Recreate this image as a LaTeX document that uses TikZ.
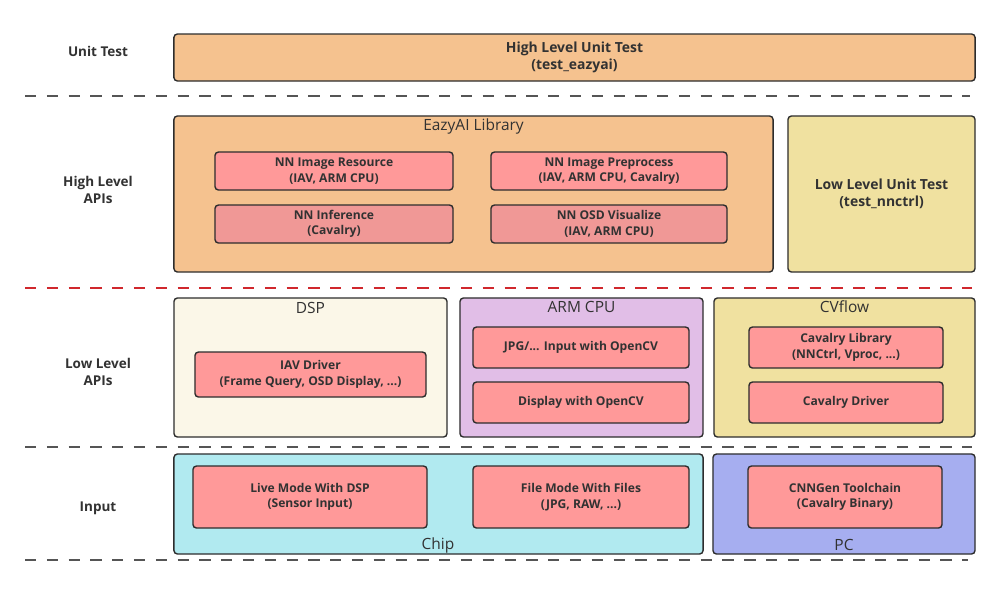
\documentclass[tikz,border=0pt]{standalone}
\usepackage{fontspec}
\setmainfont{Open Sans}
\definecolor{linecol}{RGB}{45,45,45}
\definecolor{textcol}{RGB}{50,50,50}
\definecolor{orangecol}{RGB}{245,194,143}
\definecolor{yellowcol}{RGB}{240,225,160}
\definecolor{pinkcol}{RGB}{255,153,153}
\definecolor{pinkdark}{RGB}{240,152,150}
\definecolor{creamcol}{RGB}{251,247,232}
\definecolor{lilaccol}{RGB}{225,190,231}
\definecolor{cyancol}{RGB}{177,234,240}
\definecolor{bluecol}{RGB}{166,174,240}
\definecolor{redline}{RGB}{208,40,45}
\definecolor{greyline}{RGB}{85,85,85}

\begin{document}
\begin{tikzpicture}[x=0.025cm,y=-0.025cm,
  layer/.style={draw=linecol,line width=1pt,rounded corners=2.5pt,inner sep=0pt},
  part/.style={draw=linecol,line width=1pt,rounded corners=2.5pt,fill=pinkcol,inner sep=0pt,
    align=center,text=textcol,font=\bfseries\fontsize{8.6}{11}\selectfont},
  testpart/.style={part,font=\bfseries\fontsize{9.9}{12.2}\selectfont},
  rowlabel/.style={align=center,text=textcol,font=\bfseries\fontsize{9.6}{12}\selectfont},
  boxtitle/.style={text=textcol,font=\fontsize{11}{13}\selectfont,inner sep=0pt},
  sep/.style={dash pattern=on 8pt off 7.5pt,line width=1pt}]
\useasboundingbox (0,0) rectangle (1000,595);

% separators
\draw[sep,greyline] (25,96) -- (970,96);
\draw[sep,redline,line width=1.3pt] (25,288) -- (972,288);
\draw[sep,greyline] (25,447) -- (972,447);
\draw[sep,greyline] (25,560) -- (968,560);

% row labels
\node[rowlabel] (lunit) at (98,51) {Unit Test};
\node[rowlabel] (lhigh) at (98,190) {High Level\\APIs};
\node[rowlabel] (llow) at (98,372) {Low Level\\APIs};
\node[rowlabel] (linput) at (98,508) {Input};

% unit test
\node[testpart,fill=orangecol,minimum width=20.025cm,minimum height=1.175cm] (hltest) at (574.5,57.5) {High Level Unit Test\\(test\_eazyai)};

% high level apis
\node[layer,fill=orangecol,minimum width=14.975cm,minimum height=3.9cm] (eazyai) at (473.5,194) {};
\node[boxtitle] (teazyai) at (473.5,126) {EazyAI Library};
\node[part,minimum width=5.95cm,minimum height=0.95cm] (nnres) at (334,171) {NN Image Resource\\(IAV, ARM CPU)};
\node[part,fill=pinkdark,minimum width=5.95cm,minimum height=0.95cm] (nninf) at (334,224) {NN Inference\\(Cavalry)};
\node[part,minimum width=5.9cm,minimum height=0.95cm] (nnpre) at (609,171) {NN Image Preprocess\\(IAV, ARM CPU, Cavalry)};
\node[part,fill=pinkdark,minimum width=5.9cm,minimum height=0.95cm] (nnosd) at (609,224) {NN OSD Visualize\\(IAV, ARM CPU)};
\node[testpart,fill=yellowcol,minimum width=4.675cm,minimum height=3.9cm] (lltest) at (881.5,194) {Low Level Unit Test\\(test\_nnctrl)};

% low level apis
\node[layer,fill=creamcol,minimum width=6.825cm,minimum height=3.475cm] (dsp) at (310.5,367.5) {};
\node[boxtitle] (tdsp) at (310.5,308) {DSP};
\node[part,minimum width=5.775cm,minimum height=1.125cm] (iav) at (310.5,374.5) {IAV Driver\\(Frame Query, OSD Display, ...)};

\node[layer,fill=lilaccol,minimum width=6.075cm,minimum height=3.475cm] (arm) at (581.5,367.5) {};
\node[boxtitle] (tarm) at (581.5,307) {ARM CPU};
\node[part,minimum width=5.4cm,minimum height=1.025cm] (jpgin) at (581,347.5) {JPG/... Input with OpenCV};
\node[part,minimum width=5.4cm,minimum height=1.025cm] (cvdisp) at (581,402.5) {Display with OpenCV};

\node[layer,fill=yellowcol,minimum width=6.525cm,minimum height=3.475cm] (cvflow) at (844.5,367.5) {};
\node[boxtitle] (tcvflow) at (844.5,307) {CVflow};
\node[part,minimum width=4.85cm,minimum height=1.025cm] (cavlib) at (846,347.5) {Cavalry Library\\(NNCtrl, Vproc, ...)};
\node[part,minimum width=4.85cm,minimum height=1.025cm] (cavdrv) at (846,402.5) {Cavalry Driver};

% input
\node[layer,fill=cyancol,minimum width=13.225cm,minimum height=2.5cm] (chip) at (438.5,504) {};
\node[boxtitle] (tchip) at (438,545) {Chip};
\node[part,minimum width=5.85cm,minimum height=1.55cm] (live) at (310,497) {Live Mode With DSP\\(Sensor Input)};
\node[part,minimum width=5.4cm,minimum height=1.55cm] (files) at (581,497) {File Mode With Files\\(JPG, RAW, ...)};

\node[layer,fill=bluecol,minimum width=6.55cm,minimum height=2.5cm] (pc) at (844,504) {};
\node[boxtitle] (tpc) at (844,545) {PC};
\node[part,minimum width=4.85cm,minimum height=1.55cm] (cnngen) at (845,497) {CNNGen Toolchain\\(Cavalry Binary)};
\end{tikzpicture}
\end{document}
